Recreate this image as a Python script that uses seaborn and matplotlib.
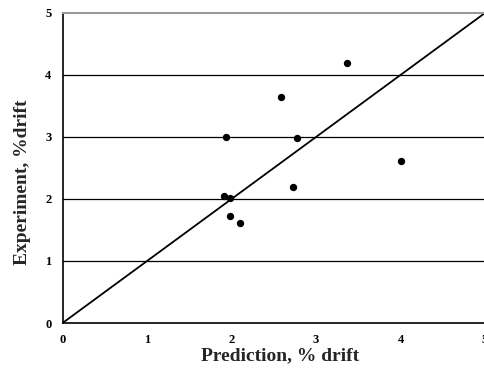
import numpy as np
import pandas as pd
import seaborn as sns
import matplotlib.pyplot as plt

# data
prediction = [1.93, 2.58, 3.37, 2.77, 4.00, 2.73, 1.91, 1.98, 1.98, 2.10]
experiment = [3.00, 3.65, 4.19, 2.99, 2.61, 2.19, 2.05, 2.02, 1.73, 1.61]
ticks = [0, 1, 2, 3, 4, 5]

df = pd.DataFrame({"prediction": prediction, "experiment": experiment})

sns.set_style("white")
plt.rcParams['font.family'] = ['Liberation Serif', 'DejaVu Serif']
plt.rcParams['font.weight'] = 'bold'

fig = plt.figure(figsize=(4.85, 3.7), dpi=100)
ax = fig.add_axes([0.129, 0.127, 0.871, 0.838])

# horizontal grid lines and the 1:1 line
for t in ticks[1:5]:
    ax.axhline(t, color='black', lw=0.9, zorder=1)
ax.plot([0, 5], [0, 5], color='black', lw=1.3, zorder=2)
sns.scatterplot(data=df, x="prediction", y="experiment", ax=ax,
                color='black', s=28, edgecolor='black', linewidth=0, zorder=3)

ax.set_xlim(0, 5)
ax.set_ylim(0, 5)
ax.set_xticks(ticks)
ax.set_yticks(ticks)
ax.tick_params(axis='both', direction='out', length=3, width=1,
               labelsize=9, colors='black', pad=5)
for lab in ax.get_xticklabels() + ax.get_yticklabels():
    lab.set_fontweight('bold')

ax.spines['left'].set_color('black')
ax.spines['left'].set_linewidth(1.2)
ax.spines['bottom'].set_color('black')
ax.spines['bottom'].set_linewidth(1.2)
ax.spines['top'].set_color('#999999')
ax.spines['top'].set_linewidth(1.5)
ax.spines['right'].set_visible(False)

ax.set_xlabel("Prediction, % drift", fontsize=14, fontweight='bold')
ax.set_ylabel("Experiment, %drift", fontsize=14, fontweight='bold')
ax.xaxis.set_label_coords(0.515, -0.078)
ax.yaxis.set_label_coords(-0.075, 0.455)

fig.savefig("out.png", dpi=100)
